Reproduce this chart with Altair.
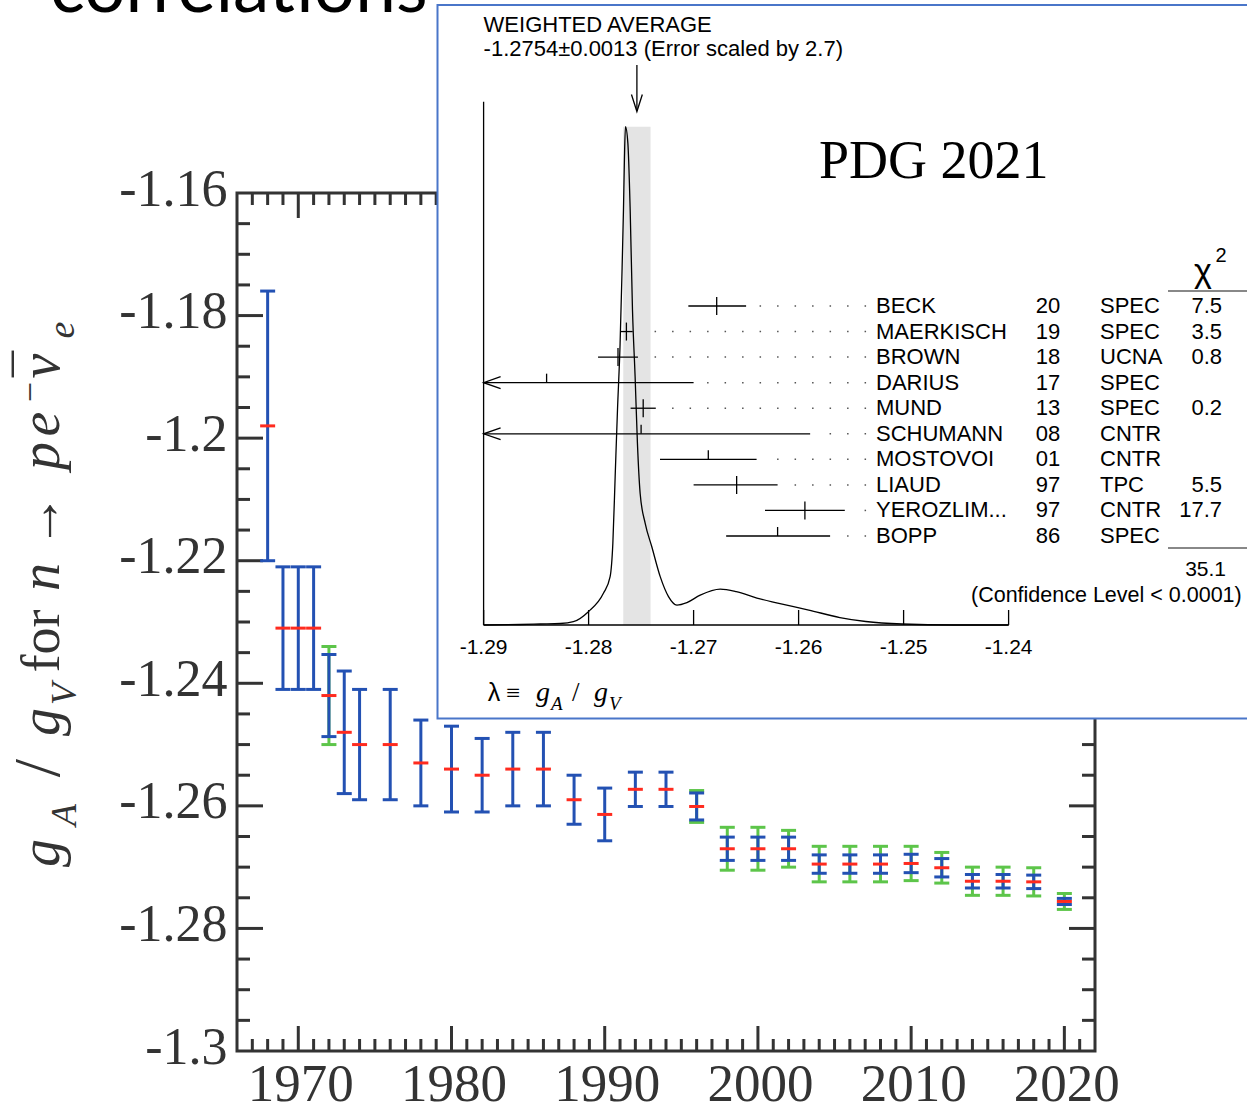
import altair as alt
import pandas as pd

# ---------------- main chart data: PDG averages of lambda = gA/gV ----------------
years = [1968, 1969, 1970, 1971, 1972, 1973, 1974, 1976, 1978, 1980, 1982, 1984, 1986,
         1988, 1990, 1992, 1994, 1996, 1998, 2000, 2002, 2004, 2006, 2008, 2010, 2012,
         2014, 2016, 2018, 2020]
lam = [-1.198, -1.231, -1.231, -1.231, -1.242, -1.248, -1.250, -1.250, -1.253, -1.254,
       -1.255, -1.254, -1.254, -1.259, -1.2614, -1.2573, -1.2573, -1.2601, -1.2670,
       -1.2670, -1.2670, -1.2695, -1.2695, -1.2695, -1.2694, -1.2701, -1.2723, -1.2723,
       -1.2724, -1.2756]
err_stat = [0.022, 0.010, 0.010, 0.010, 0.0067, 0.010, 0.009, 0.009, 0.007, 0.007, 0.006,
            0.006, 0.006, 0.004, 0.0043, 0.0028, 0.0028, 0.0022, 0.0019, 0.0019, 0.0019,
            0.0015, 0.0015, 0.0015, 0.0015, 0.0015, 0.0011, 0.0011, 0.0011, 0.0005]
err_scaled = [None, None, None, None, 0.008, None, None, None, None, None, None, None,
              None, None, None, None, None, 0.0026, 0.0035, 0.0035, 0.0030, 0.0029,
              0.0029, 0.0029, 0.0028, 0.0025, 0.0023, 0.0023, 0.0023, 0.0013]

X_MIN, X_MAX = 1966, 2022
Y_MIN, Y_MAX = -1.30, -1.16
x_major = [1970, 1980, 1990, 2000, 2010, 2020]
y_major = [-1.30, -1.28, -1.26, -1.24, -1.22, -1.20, -1.18, -1.16]
x_minor = [y for y in range(X_MIN + 1, X_MAX) if y % 10 != 0]
y_minor = [round(Y_MIN + 0.005 * k, 3) for k in range(1, 28) if k % 4 != 0]

# ---------------- inset data: PDG 2021 ideogram ----------------
names = ["BECK", "MAERKISCH", "BROWN", "DARIUS", "MUND", "SCHUMANN", "MOSTOVOI",
         "LIAUD", "YEROZLIM...", "BOPP"]
ref_years = ["20", "19", "18", "17", "13", "08", "01", "97", "97", "86"]
techs = ["SPEC", "SPEC", "UCNA", "SPEC", "SPEC", "CNTR", "CNTR", "TPC", "CNTR", "SPEC"]
chi2 = ["7.5", "3.5", "0.8", "", "0.2", "", "", "5.5", "17.7", ""]
meas = [-1.2678, -1.2764, -1.2772, -1.2840, -1.2748, -1.2750, -1.2686, -1.2659, -1.2594, -1.2620]
meas_lo = [-1.2705, -1.2770, -1.2791, -1.2981, -1.2760, -1.2911, -1.2732, -1.2700, -1.2632, -1.2669]
meas_hi = [-1.2650, -1.2758, -1.2753, -1.2700, -1.2736, -1.2589, -1.2640, -1.2620, -1.2556, -1.2570]
avg_value = -1.2754
avg_error = 0.0013
chi2_total = "35.1"
curve_x = [-1.2900, -1.2865, -1.2846, -1.2827, -1.28145, -1.28002, -1.27859, -1.27795,
           -1.27769, -1.27747, -1.27725, -1.27700, -1.27683, -1.27668, -1.27659, -1.27649,
           -1.27626, -1.27604, -1.27582, -1.27557, -1.27535, -1.27509, -1.27461, -1.27398,
           -1.27318, -1.27239, -1.27159, -1.27064, -1.26937, -1.26746, -1.26594, -1.26397,
           -1.26199, -1.25903, -1.25607, -1.25360, -1.25015, -1.24522, -1.2400]
curve_h = [0.0, 0.001, 0.002, 0.003, 0.0066, 0.0267, 0.0636, 0.097, 0.164, 0.298, 0.431,
           0.565, 0.699, 0.833, 0.933, 1.0, 0.967, 0.833, 0.632, 0.498, 0.365, 0.264,
           0.204, 0.157, 0.097, 0.057, 0.040, 0.045, 0.060, 0.072, 0.067, 0.054, 0.044,
           0.030, 0.015, 0.007, 0.002, 0.0, 0.0]
inset_ticks = [-1.29, -1.28, -1.27, -1.26, -1.25, -1.24]
inset_tick_labels = ["-1.29", "-1.28", "-1.27", "-1.26", "-1.25", "-1.24"]

# ---------------- layout / style ----------------
W, H = 858, 858
PL, PT = 237, 193
SERIF = "Liberation Serif"
SANS = "Liberation Sans"
AX = "#333333"
BLUE = "#2351b3"
GREEN = "#5dc54a"
RED = "#ff2b1f"
BOXBLUE = "#4a76c9"


def px(v):
    return v - PL


def py(v):
    return v - PT


mx = alt.Scale(domain=[X_MIN, X_MAX], range=[0, W], nice=False, zero=False)
my = alt.Scale(domain=[Y_MIN, Y_MAX], range=[H, 0], nice=False, zero=False)
ix = alt.Scale(domain=[-1.29, -1.24], range=[px(483.6), px(1008.6)], clamp=True,
               nice=False, zero=False)
iyc = alt.Scale(domain=[0, 1], range=[py(625), py(126.7)], nice=False, zero=False)
iyr = alt.Scale(type="point", domain=names, range=[py(306), py(536)], padding=0)

layers = []

# frame
frame_df = pd.DataFrame({"x0": [X_MIN], "x1": [X_MAX], "y0": [Y_MIN], "y1": [Y_MAX]})
layers.append(alt.Chart(frame_df).mark_rect(fill="white", stroke=AX, strokeWidth=3).encode(
    x=alt.X("x0:Q", scale=mx, axis=None), x2="x1:Q",
    y=alt.Y("y0:Q", scale=my, axis=None), y2="y1:Q"))


def frame_ticks(vals, side, length):
    if side in ("bottom", "top"):
        edge = Y_MIN if side == "bottom" else Y_MAX
        off = -length / 2 if side == "bottom" else length / 2
        df = pd.DataFrame({"v": vals, "e": [edge] * len(vals)})
        return alt.Chart(df).mark_tick(orient="vertical", size=length, thickness=3, color=AX,
                                       opacity=1, yOffset=off).encode(
            x=alt.X("v:Q", scale=mx, axis=None), y=alt.Y("e:Q", scale=my, axis=None))
    edge = X_MIN if side == "left" else X_MAX
    off = length / 2 if side == "left" else -length / 2
    df = pd.DataFrame({"v": vals, "e": [edge] * len(vals)})
    return alt.Chart(df).mark_tick(orient="horizontal", size=length, thickness=3, color=AX,
                                   opacity=1, xOffset=off).encode(
        x=alt.X("e:Q", scale=mx, axis=None), y=alt.Y("v:Q", scale=my, axis=None))


for side in ("bottom", "top"):
    layers.append(frame_ticks(x_minor, side, 12))
    layers.append(frame_ticks(x_major, side, 25))
for side in ("left", "right"):
    layers.append(frame_ticks(y_minor, side, 13))
    layers.append(frame_ticks([v for v in y_major if Y_MIN < v < Y_MAX], side, 26))

main = pd.DataFrame({"year": years, "lam": lam, "err": err_stat})
main["lo"] = main["lam"] - main["err"]
main["hi"] = main["lam"] + main["err"]
green = pd.DataFrame([(y, l, e) for y, l, e in zip(years, lam, err_scaled) if e is not None],
                     columns=["year", "lam", "err"])
green["lo"] = green["lam"] - green["err"]
green["hi"] = green["lam"] + green["err"]

# green (scaled) error bars
layers.append(alt.Chart(green).mark_rule(color=GREEN, strokeWidth=3).encode(
    x=alt.X("year:Q", scale=mx, axis=None), y=alt.Y("lo:Q", scale=my, axis=None), y2="hi:Q"))
layers.append(alt.Chart(green).transform_fold(["lo", "hi"], as_=["end", "v"]).mark_tick(
    orient="horizontal", size=15, thickness=3, color=GREEN, opacity=1).encode(
    x=alt.X("year:Q", scale=mx, axis=None), y=alt.Y("v:Q", scale=my, axis=None)))

# blue error bars (carry the axes)
layers.append(alt.Chart(main).mark_rule(color=BLUE, strokeWidth=3).encode(
    x=alt.X("year:Q", scale=mx, axis=alt.Axis(
        values=x_major, format="d", title=None, ticks=False, tickSize=0, domain=False,
        grid=False, labelFont=SERIF, labelFontSize=53, labelColor=AX, labelPadding=7,
        labelOffset=2, labelFlush=False, labelOverlap=False)),
    y=alt.Y("lo:Q", scale=my, axis=alt.Axis(
        values=y_major, labelExpr="'-' + format(abs(datum.value), '.2~f')", title=None,
        ticks=False, tickSize=0, domain=False, grid=False, labelFont=SERIF,
        labelFontSize=52, labelColor=AX, labelPadding=10, labelOffset=-4,
        labelFlush=False, labelOverlap=False)),
    y2="hi:Q"))
layers.append(alt.Chart(main).transform_fold(["lo", "hi"], as_=["end", "v"]).mark_tick(
    orient="horizontal", size=15, thickness=3, color=BLUE, opacity=1).encode(
    x=alt.X("year:Q", scale=mx, axis=None), y=alt.Y("v:Q", scale=my, axis=None)))
# red central values
layers.append(alt.Chart(main).mark_tick(orient="horizontal", size=15, thickness=3, color=RED,
                                        opacity=1).encode(
    x=alt.X("year:Q", scale=mx, axis=None), y=alt.Y("lam:Q", scale=my, axis=None)))


def label(t, x, y, size, font=SANS, align="left", style="normal", angle=0, color="black",
          baseline="alphabetic", weight="normal"):
    df = pd.DataFrame({"t": [t]})
    kw = dict(font=font, fontSize=size, align=align, fontStyle=style, color=color,
              baseline=baseline, fontWeight=weight)
    if angle:
        kw["angle"] = angle
    return alt.Chart(df).mark_text(**kw).encode(
        x=alt.value(px(x)), y=alt.value(py(y)), text="t:N")


# rotated y-axis title, piece by piece (reads bottom to top)
title_pieces = [
    ("g", 853, 59, 56, "italic"), ("A", 815, 76, 36, "italic"), ("/", 768, 59, 66, "normal"),
    ("g", 722, 59, 56, "italic"), ("V", 694, 76, 36, "italic"), ("for", 641, 59, 54, "normal"),
    ("n", 577, 59, 56, "italic"), ("\u2192", 521, 59, 54, "normal"),
    ("p", 456, 59, 56, "italic"), ("e", 424, 59, 56, "italic"), ("\u2212", 392, 42, 36, "normal"),
    ("\u03bd", 366, 59, 56, "italic"), ("\u00af", 364, 52, 52, "normal"),
    ("e", 330, 74, 38, "italic"),
]
for t, yy, xx, sz, st in title_pieces:
    layers.append(label(t, xx, yy, sz, font=SERIF, align="center", style=st, angle=270,
                        color=AX))

# slide title remnant
layers.append(label("correlations", 50, 12, 73, font="Lato"))

# ---------------- inset ----------------
layers.append(alt.Chart(pd.DataFrame({"a": [0]})).mark_rect(
    fill="white", stroke=BOXBLUE, strokeWidth=2).encode(
    x=alt.value(px(437.5)), x2=alt.value(px(1262)), y=alt.value(py(5)), y2=alt.value(py(718.5))))

band = pd.DataFrame({"lo": [avg_value - avg_error], "hi": [avg_value + avg_error],
                     "h0": [0.0], "h1": [1.0]})
layers.append(alt.Chart(band).mark_rect(color="#e4e4e4").encode(
    x=alt.X("lo:Q", scale=ix, axis=None), x2="hi:Q",
    y=alt.Y("h0:Q", scale=iyc, axis=None), y2="h1:Q"))

curve = pd.DataFrame({"x": curve_x, "h": curve_h})
layers.append(alt.Chart(curve).mark_line(color="black", strokeWidth=1.3,
                                         interpolate="monotone").encode(
    x=alt.X("x:Q", scale=ix, axis=None), y=alt.Y("h:Q", scale=iyc, axis=None)))

axl = pd.DataFrame({"x": [inset_ticks[0]], "h0": [0.0], "h1": [1.05]})
layers.append(alt.Chart(axl).mark_rule(color="black", strokeWidth=1.3).encode(
    x=alt.X("x:Q", scale=ix, axis=None), y=alt.Y("h0:Q", scale=iyc, axis=None), y2="h1:Q"))
axb = pd.DataFrame({"x0": [inset_ticks[0]], "x1": [inset_ticks[-1]], "h": [0.0]})
layers.append(alt.Chart(axb).mark_rule(color="black", strokeWidth=1.3).encode(
    x=alt.X("x0:Q", scale=ix, axis=None), x2="x1:Q", y=alt.Y("h:Q", scale=iyc, axis=None)))

itk = pd.DataFrame({"v": inset_ticks, "lab": inset_tick_labels, "h": [0.0] * len(inset_ticks)})
layers.append(alt.Chart(itk).mark_tick(orient="vertical", size=15, thickness=1.3, color="black",
                                       opacity=1, yOffset=-7.5).encode(
    x=alt.X("v:Q", scale=ix, axis=None), y=alt.Y("h:Q", scale=iyc, axis=None)))
layers.append(alt.Chart(itk).mark_text(font=SANS, fontSize=21, dy=23, baseline="middle",
                                       color="black").encode(
    x=alt.X("v:Q", scale=ix, axis=None), y=alt.Y("h:Q", scale=iyc, axis=None), text="lab:N"))

rows = pd.DataFrame({"name": names, "yr": ref_years, "tech": techs, "chi2": chi2,
                     "val": meas, "lo": meas_lo, "hi": meas_hi})
rows["used"] = rows["chi2"] != ""
rows["dot_end"] = -1.29 + (866 - 483.6) / 104.98 * 0.01
Yr = alt.Y("name:N", scale=iyr, axis=None)

layers.append(alt.Chart(rows).mark_rule(color="#555555", strokeWidth=1.5,
                                        strokeDash=[1.5, 16], x2Offset=12).encode(
    x=alt.X("dot_end:Q", scale=ix, axis=None), x2="hi:Q", y=Yr))
layers.append(alt.Chart(rows).mark_rule(color="black", strokeWidth=1.3).encode(
    x=alt.X("lo:Q", scale=ix, axis=None), x2="hi:Q", y=Yr))
layers.append(alt.Chart(rows).transform_filter("datum.used").mark_tick(
    orient="vertical", size=18, thickness=1.3, color="black", opacity=1).encode(
    x=alt.X("val:Q", scale=ix, axis=None), y=Yr))
layers.append(alt.Chart(rows).transform_filter("!datum.used").mark_tick(
    orient="vertical", size=9, thickness=1.3, color="black", opacity=1, yOffset=-4.5).encode(
    x=alt.X("val:Q", scale=ix, axis=None), y=Yr))
layers.append(alt.Chart(rows).transform_filter("datum.lo < -1.29").mark_point(
    shape="M1,-0.35L0,0L1,0.35", size=1156, filled=False, stroke="black", strokeWidth=1.3,
    opacity=1).encode(x=alt.X("lo:Q", scale=ix, axis=None), y=Yr))

for col, xx, al in (("name", 876, "left"), ("yr", 1048, "center"), ("tech", 1100, "left"),
                    ("chi2", 1222, "right")):
    layers.append(alt.Chart(rows).mark_text(font=SANS, fontSize=22, align=al,
                                            baseline="middle", color="black").encode(
        x=alt.value(px(xx)), y=Yr, text=f"{col}:N"))

layers.append(label("\u03c7", 1203, 282, 34, align="center"))
layers.append(label("2", 1221, 262, 20, align="center"))
for yy in (291, 548):
    layers.append(alt.Chart(pd.DataFrame({"a": [0]})).mark_rule(
        color="#888888", strokeWidth=2).encode(
        x=alt.value(px(1168)), x2=alt.value(px(1262)), y=alt.value(py(yy))))
layers.append(label(chi2_total, 1226, 576, 21, align="right"))
layers.append(label("(Confidence Level < 0.0001)", 971, 602, 21.5))

# weighted-average annotation
layers.append(label("WEIGHTED AVERAGE", 483.6, 32, 22))
layers.append(label("-1.2754\u00b10.0013 (Error scaled by 2.7)", 483.6, 56, 22))
avg_df = pd.DataFrame({"v": [avg_value]})
layers.append(alt.Chart(avg_df).mark_rule(color="black", strokeWidth=1.3).encode(
    x=alt.X("v:Q", scale=ix, axis=None), y=alt.value(py(65)), y2=alt.value(py(111))))
layers.append(alt.Chart(avg_df).mark_point(
    shape="M-0.32,-1L0,0L0.32,-1", size=1156, filled=False, stroke="black", strokeWidth=1.3,
    opacity=1).encode(x=alt.X("v:Q", scale=ix, axis=None), y=alt.value(py(111.5))))

layers.append(label("PDG 2021", 819, 178, 54, font=SERIF))

# lambda label
layers.append(label("\u03bb", 487.7, 701, 25, font=SANS))
layers.append(label("\u2261", 506, 701, 25, font=SERIF))
layers.append(label("g", 536, 701, 28, font=SERIF, style="italic"))
layers.append(label("A", 551, 710, 19, font=SERIF, style="italic"))
layers.append(label("/", 572, 701, 27, font=SERIF))
layers.append(label("g", 594, 701, 28, font=SERIF, style="italic"))
layers.append(label("V", 609, 710, 19, font=SERIF, style="italic"))

chart = alt.layer(*layers).resolve_scale(x="independent", y="independent").properties(
    width=W, height=H,
    padding={"left": PL, "top": PT, "right": 1247 - PL - W, "bottom": 1109 - PT - H},
    autosize=alt.AutoSizeParams(type="none"),
).configure_view(stroke="transparent", strokeWidth=0)

chart.save("out.html", embed_options={"renderer": "svg", "actions": False})
